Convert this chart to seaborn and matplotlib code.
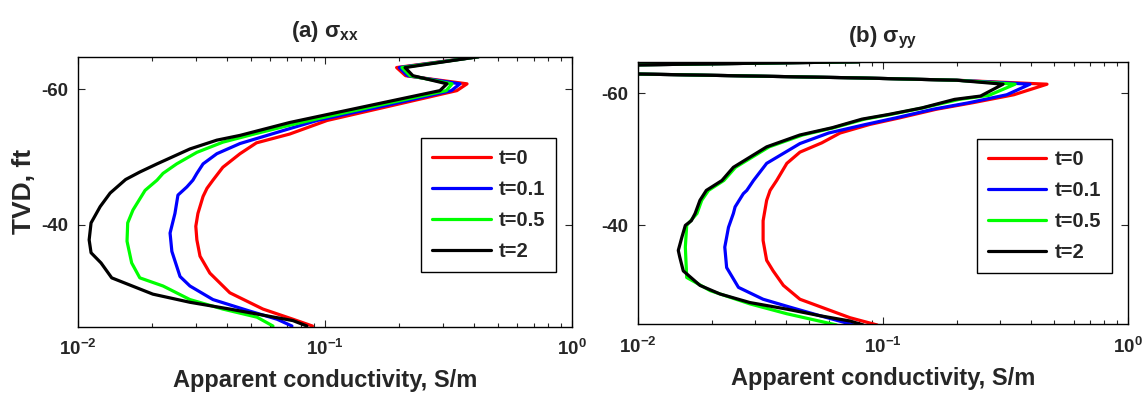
import matplotlib
matplotlib.use("Agg")
import matplotlib.pyplot as plt
import numpy as np
import pandas as pd
import seaborn as sns

# ---------------- data ----------------
labels = ["t=0", "t=0.1", "t=0.5", "t=2"]
colors = ["#ff0000", "#0000ff", "#00ff00", "#000000"]

# (a) sigma_xx
xx_t0_depth = [-64.8, -63.2, -62.0, -60.8, -59.8, -57.6, -55.4, -53.4, -52.1, -50.5, -48.5, -46.6, -45.4,
               -44.2, -41.7, -39.8, -37.8, -35.4, -32.9, -30.0, -27.6, -26.1, -25.1]
xx_t0_sigma = [0.419, 0.195, 0.212, 0.376, 0.342, 0.187, 0.102, 0.072, 0.0528, 0.0453, 0.0386, 0.0352, 0.0333,
               0.0321, 0.0306, 0.0300, 0.0303, 0.0312, 0.0342, 0.0412, 0.0561, 0.0742, 0.089]

xx_t01_depth = [-64.8, -63.2, -62.0, -60.8, -59.8, -57.6, -55.4, -54.2, -52.0, -50.5, -49.0, -47.6, -46.6,
                -45.6, -44.4, -41.7, -38.8, -36.1, -32.4, -31.0, -29.0, -27.3, -26.1, -25.1]
xx_t01_sigma = [0.419, 0.200, 0.216, 0.352, 0.325, 0.176, 0.093, 0.072, 0.0453, 0.0365, 0.0321, 0.0303, 0.0292,
                0.0276, 0.0254, 0.0247, 0.0236, 0.0240, 0.0259, 0.0284, 0.0352, 0.0496, 0.064, 0.0735]

xx_t05_depth = [-64.8, -63.2, -62.0, -60.8, -59.8, -57.6, -55.4, -54.7, -53.5, -52.2, -50.7, -49.0, -47.6,
                -46.6, -45.1, -42.2, -40.3, -37.6, -34.4, -32.2, -31.0, -29.0, -27.6, -26.4, -25.1]
xx_t05_sigma = [0.419, 0.205, 0.221, 0.327, 0.310, 0.163, 0.0869, 0.072, 0.053, 0.0386, 0.0303, 0.0251, 0.0221,
                0.0209, 0.0187, 0.0167, 0.0159, 0.0158, 0.0165, 0.0178, 0.0221, 0.0284, 0.0386, 0.0531, 0.0616]

xx_t2_depth = [-64.8, -63.2, -62.0, -60.8, -59.8, -57.5, -55.1, -53.2, -52.5, -51.2, -49.0, -47.8, -46.7,
               -44.7, -42.7, -40.3, -37.8, -35.9, -34.4, -32.2, -29.8, -28.6, -27.6, -26.6, -25.9, -25.1]
xx_t2_sigma = [0.419, 0.211, 0.227, 0.312, 0.292, 0.147, 0.072, 0.0453, 0.0365, 0.0284, 0.0209, 0.0178, 0.0156,
               0.0135, 0.0123, 0.0113, 0.0111, 0.0113, 0.0124, 0.0137, 0.0201, 0.0284, 0.0412, 0.0582, 0.0742, 0.0845]

# (b) sigma_yy
yy_t0_depth = [-64.8, -63.8, -63.6, -62.35, -62.0, -61.4, -59.8, -58.6, -57.6, -56.3, -55.3, -54.0, -52.5,
               -51.1, -49.4, -46.8, -45.3, -43.8, -40.7, -37.7, -34.7, -33.1, -30.9, -28.8, -27.3, -26.0, -24.9]
yy_t0_sigma = [0.08, 0.001, 0.001, 0.08, 0.2, 0.467, 0.342, 0.233, 0.165, 0.117, 0.0883, 0.0668, 0.0562,
               0.0458, 0.0405, 0.0368, 0.0346, 0.0335, 0.0324, 0.0324, 0.0335, 0.0356, 0.0392, 0.0458, 0.0589,
               0.0733, 0.0946]

yy_t01_depth = [-64.8, -63.8, -63.6, -62.35, -62.0, -61.4, -59.8, -58.6, -57.6, -56.3, -55.3, -54.0, -52.4,
                -49.4, -46.8, -45.3, -44.8, -42.8, -41.8, -39.7, -36.7, -33.6, -30.6, -28.8, -27.6, -26.3, -24.9]
yy_t01_sigma = [0.08, 0.001, 0.001, 0.08, 0.2, 0.398, 0.32, 0.225, 0.16, 0.113, 0.085, 0.06, 0.0458,
                0.0335, 0.0296, 0.0278, 0.0269, 0.0249, 0.0245, 0.0234, 0.0226, 0.0230, 0.0257, 0.0324, 0.0417,
                0.0553, 0.076]

yy_t05_depth = [-64.8, -63.8, -63.6, -62.35, -62.0, -61.4, -59.7, -59.1, -57.8, -56.8, -56.1, -54.8, -53.7,
                -51.9, -48.8, -46.8, -45.3, -43.8, -41.8, -40.0, -36.7, -32.1, -30.1, -28.1, -26.6, -24.9]
yy_t05_sigma = [0.08, 0.001, 0.001, 0.08, 0.2, 0.346, 0.27, 0.205, 0.145, 0.107, 0.084, 0.063, 0.047,
                0.0343, 0.0250, 0.0224, 0.0194, 0.0182, 0.0174, 0.0158, 0.0156, 0.0158, 0.0197, 0.0286, 0.0405,
                0.0646]

yy_t2_depth = [-64.8, -63.8, -63.6, -62.35, -62.0, -61.4, -59.6, -59.1, -57.8, -56.8, -56.1, -54.8, -53.7,
               -51.9, -48.8, -46.8, -45.3, -43.8, -41.8, -40.7, -40.0, -38.2, -36.2, -35.2, -33.1, -30.9, -29.6,
               -28.3, -27.3, -26.3, -25.5, -24.9]
yy_t2_sigma = [0.08, 0.001, 0.001, 0.08, 0.2, 0.309, 0.25, 0.196, 0.144, 0.105, 0.082, 0.062, 0.0458,
               0.0335, 0.0245, 0.022, 0.019, 0.0179, 0.0171, 0.0165, 0.0156, 0.0151, 0.0146, 0.0148, 0.0153,
               0.0179, 0.0216, 0.0286, 0.0405, 0.0553, 0.0733, 0.083]

titles = [r"(a) $\mathrm{\sigma_{xx}}$", r"(b) $\mathrm{\sigma_{yy}}$"]
xtick_vals = [1e-2, 1e-1, 1e0]
xtick_labels = [r"$\mathrm{10^{-2}}$", r"$\mathrm{10^{-1}}$", r"$\mathrm{10^{0}}$"]
ytick_vals = [-60, -40]

# ---------------- style ----------------
sns.set_style("ticks")
plt.rcParams.update({
    "font.family": ["Liberation Sans", "DejaVu Sans"],
    "font.weight": "bold",
    "axes.labelweight": "bold",
    "axes.titleweight": "bold",
    "mathtext.fontset": "custom",
    "mathtext.rm": "Liberation Sans:bold",
    "mathtext.it": "Liberation Sans:bold",
    "mathtext.bf": "Liberation Sans:bold",
    "mathtext.sf": "Liberation Sans:bold",
    "axes.edgecolor": "black",
    "axes.linewidth": 1.0,
})


def make_df(depths, sigmas):
    frames = []
    for lab, d, s in zip(labels, depths, sigmas):
        frames.append(pd.DataFrame({"depth": d, "sigma": s, "series": lab}))
    return pd.concat(frames, ignore_index=True)


df_xx = make_df([xx_t0_depth, xx_t01_depth, xx_t05_depth, xx_t2_depth],
                [xx_t0_sigma, xx_t01_sigma, xx_t05_sigma, xx_t2_sigma])
df_yy = make_df([yy_t0_depth, yy_t01_depth, yy_t05_depth, yy_t2_depth],
                [yy_t0_sigma, yy_t01_sigma, yy_t05_sigma, yy_t2_sigma])

fig = plt.figure(figsize=(11.43, 3.99), dpi=100)
axL = fig.add_axes([0.0682, 0.1812, 0.4322, 0.6767])
axR = fig.add_axes([0.5582, 0.1872, 0.4287, 0.658])

legend_anchor = [(0.968, 0.699), (0.967, 0.706)]

for i, (ax, df) in enumerate([(axL, df_xx), (axR, df_yy)]):
    sns.lineplot(data=df, x="sigma", y="depth", hue="series", hue_order=labels,
                 palette=colors, sort=False, estimator=None, orient="y",
                 linewidth=2.3, ax=ax, legend=False)
    ax.set_xscale("log")
    ax.set_xlim(1e-2, 1e0)
    ax.set_ylim(-25, -64.8)
    ax.set_xticks(xtick_vals)
    ax.set_xticklabels(xtick_labels)
    ax.set_yticks(ytick_vals)
    ax.set_yticklabels([str(v) for v in ytick_vals])
    ax.tick_params(which="both", direction="in", top=True, right=True,
                   labelsize=13.5, width=0.8)
    ax.tick_params(which="major", length=5, pad=7)
    ax.tick_params(axis="x", which="major", pad=9)
    ax.tick_params(which="minor", length=3)
    for sp in ax.spines.values():
        sp.set_visible(True)
        sp.set_color("black")
    ax.set_xlabel("Apparent conductivity, S/m", fontsize=17, fontweight="bold", labelpad=7)
    ax.set_title(titles[i], fontsize=16, fontweight="bold", pad=14)
    handles = ax.get_lines()[:4]
    leg = ax.legend(handles, labels, loc="upper right", bbox_to_anchor=legend_anchor[i],
                    borderaxespad=0, frameon=True, fancybox=False, framealpha=1,
                    edgecolor="black", fontsize=14.5, handlelength=2.9, handletextpad=0.4,
                    labelspacing=0.6, borderpad=0.55)
    leg.get_frame().set_linewidth(1.0)
    for t in leg.get_texts():
        t.set_fontweight("bold")
    for ln in leg.get_lines():
        ln.set_linewidth(2.3)

axL.set_ylabel("TVD, ft", fontsize=19, fontweight="bold", labelpad=4)
axR.set_ylabel("")

fig.savefig("out.png", dpi=100)
